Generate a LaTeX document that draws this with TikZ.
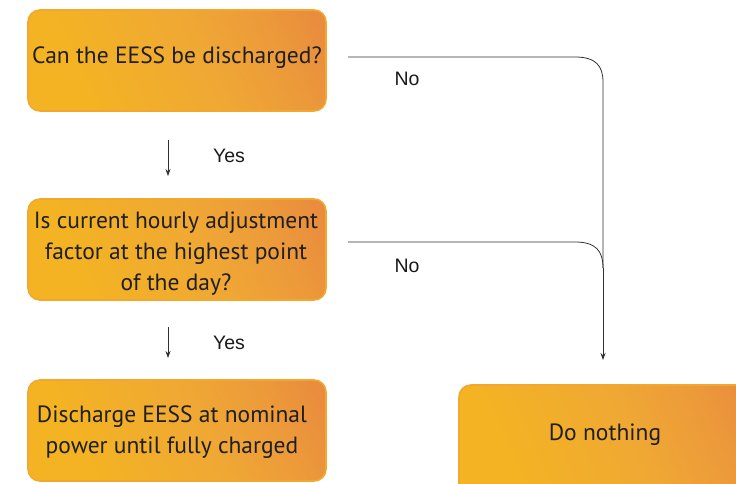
\documentclass[tikz,border=0pt]{standalone}
\usepackage{fontspec}
\setmainfont{PT Sans}
\newfontfamily\labelfont{Liberation Sans}
\usetikzlibrary{arrows.meta}
\definecolor{boxyellow}{HTML}{F3B323}
\definecolor{boxmid}{HTML}{F0A834}
\definecolor{boxwarm}{HTML}{EC9A3A}
\definecolor{boxorange}{HTML}{E98B3E}
\definecolor{boxedge}{HTML}{F2A82E}
\definecolor{linegray}{HTML}{303030}
\pgfdeclarehorizontalshading{boxshade}{100bp}{
  color(0bp)=(boxyellow); color(30bp)=(boxyellow); color(55bp)=(boxmid);
  color(70bp)=(boxwarm); color(82bp)=(boxorange); color(100bp)=(boxorange)}
\tikzset{
  stepbox/.style={rounded corners=12pt, draw=boxedge, line width=1.6pt,
    shading=boxshade, shading angle=25},
  steptext/.style={align=center, text=black!88, font=\fontsize{23.5}{31}\selectfont},
  conn/.style={draw=linegray, line width=0.8pt},
  arr/.style={conn, -{Stealth[length=7pt,width=5pt]}},
  lbl/.style={font=\labelfont\fontsize{19.5}{21}\selectfont, text=black!90},
}
\begin{document}
\begin{tikzpicture}[x=1pt,y=-1pt]
\useasboundingbox (0,0) rectangle (736,484);
\clip (0,0) rectangle (736,484);
% decision and action boxes
\path[stepbox] (28,10) rectangle (326,111);
\node[steptext] (q1) at (177,58) {Can the EESS be discharged?};
\path[stepbox] (28,199) rectangle (326,300);
\node[steptext] (q2) at (176,254) {Is current hourly adjustment\\factor at the highest point\\of the day?};
\path[stepbox] (28,380) rectangle (326,481);
\node[steptext] (a1) at (172,432) {Discharge EESS at nominal\\power until fully charged};
\path[stepbox] (459,385) rectangle (760,500);
\node[steptext] (a2) at (605,435) {Do nothing};
% "Yes" arrows
\coordinate (y1s) at (168,140);
\coordinate (y1e) at (168,176);
\draw[arr] (y1s) -- (y1e);
\node[lbl] (y1) at (229,156) {Yes};
\coordinate (y2s) at (168,327);
\coordinate (y2e) at (168,358);
\draw[arr] (y2s) -- (y2e);
\node[lbl] (y2) at (229,343) {Yes};
% "No" branches
\coordinate (n1s) at (348,57);
\coordinate (n2s) at (348,242);
\coordinate (dn) at (603,360);
\draw[conn] (n1s) -- (575,57) .. controls (596,57) and (603,66) .. (603,82) -- (603,268);
\draw[conn] (n2s) -- (575,242) .. controls (596,242) and (603,251) .. (603,268);
\draw[arr] (603,268) -- (dn);
\node[lbl] (no1) at (407,79) {No};
\node[lbl] (no2) at (407,266) {No};
\end{tikzpicture}
\end{document}
